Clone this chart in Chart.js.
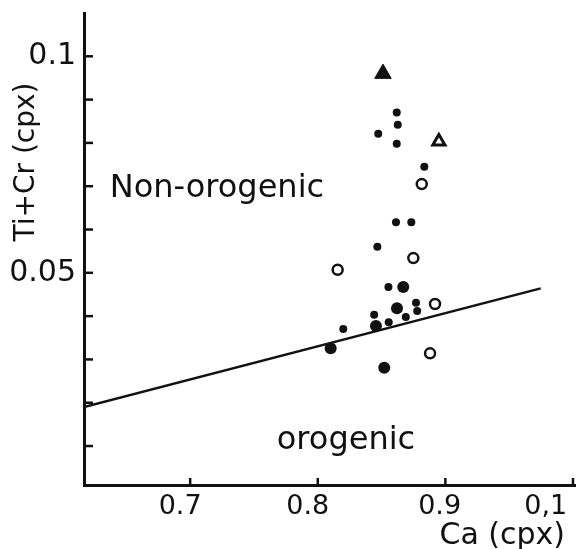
<!DOCTYPE html>
<html>
<head>
<meta charset="utf-8">
<script src="https://cdn.jsdelivr.net/npm/chart.js@4.4.1/dist/chart.umd.min.js"></script>
<style>
  html, body { margin: 0; padding: 0; background: #ffffff; }
  #wrap { width: 578px; height: 549px; }
</style>
</head>
<body>
<div id="wrap"><canvas id="c" width="578" height="549"></canvas></div>
<script>
// ---- data ----
const xTickValues = [0.7, 0.8, 0.9, 1.0];
const xTickLabels = ['0.7', '0.8', '0.9', '0,1'];
const yTickValues = [0.01, 0.02, 0.03, 0.04, 0.05, 0.06, 0.07, 0.08, 0.09, 0.10];
const yLabelledTicks = [0.05, 0.10];
const yLabelTexts = ['0.05', '0.1'];

const smallDotsX = [0.8619, 0.8627, 0.8474, 0.8619, 0.8835, 0.8613, 0.8733, 0.8467, 0.8554, 0.8770, 0.8779, 0.8442, 0.8690, 0.8556, 0.8200];
const smallDotsY = [0.0870, 0.0842, 0.0821, 0.0798, 0.0745, 0.0617, 0.0617, 0.0560, 0.0467, 0.0431, 0.0412, 0.0403, 0.0398, 0.0386, 0.0370];

const bigDotsX = [0.8670, 0.8621, 0.8456, 0.8101, 0.8521];
const bigDotsY = [0.0467, 0.0418, 0.0377, 0.0326, 0.0281];

const openCirclesX = [0.8815, 0.8749, 0.8156, 0.8919, 0.8880];
const openCirclesY = [0.0705, 0.0534, 0.0507, 0.0428, 0.0314];

const filledTriangleX = [0.8511];
const filledTriangleY = [0.0960];
const openTriangleX = [0.8949];
const openTriangleY = [0.0803];

const boundaryX = [0.6168, 0.9747];
const boundaryY = [0.0190, 0.0464];

const regionLabels = ['Non-orogenic', 'orogenic'];
const regionLabelX = [0.7210, 0.8221];
const regionLabelY = [0.0675, 0.0093];

const xTitle = 'Ca (cpx)';
const yTitle = 'Ti+Cr (cpx)';

// ---- build ----
const pts = (xs, ys) => xs.map((x, i) => ({ x: x, y: ys[i] }));
const INK = '#111111';
const FONT = '"DejaVu Sans", sans-serif';
// per-label nudges (in spaces) so labels sit where the reference prints them
const xLabelPad = [['', ''], ['', ''], [' ', ''], ['', '    ']];

const extras = {
  id: 'extras',
  afterDraw(chart) {
    const ctx = chart.ctx;
    const xs = chart.scales.x, ys = chart.scales.y;
    const a = chart.chartArea;
    ctx.save();
    ctx.strokeStyle = INK;
    ctx.lineWidth = 2.5;
    // inward tick marks
    yTickValues.forEach(v => {
      const py = ys.getPixelForValue(v);
      ctx.beginPath(); ctx.moveTo(a.left, py); ctx.lineTo(a.left + 9, py); ctx.stroke();
    });
    xTickValues.forEach(v => {
      const px = xs.getPixelForValue(v);
      ctx.beginPath(); ctx.moveTo(px, a.bottom); ctx.lineTo(px, a.bottom - 7); ctx.stroke();
    });
    // region labels
    ctx.fillStyle = INK;
    ctx.font = '32px ' + FONT;
    ctx.textAlign = 'center';
    ctx.textBaseline = 'alphabetic';
    regionLabels.forEach((t, i) => {
      ctx.fillText(t, xs.getPixelForValue(regionLabelX[i]), ys.getPixelForValue(regionLabelY[i]));
    });
    // axis titles
    ctx.font = '30px ' + FONT;
    ctx.textAlign = 'right';
    ctx.textBaseline = 'middle';
    ctx.fillText(xTitle, a.right - 10, a.bottom + 51);
    ctx.save();
    ctx.translate(a.left - 57, 162);
    ctx.rotate(-Math.PI / 2);
    ctx.font = '28px ' + FONT;
    ctx.textAlign = 'center';
    ctx.fillText(yTitle, 0, 0);
    ctx.restore();
    ctx.restore();
  }
};

new Chart(document.getElementById('c'), {
  type: 'scatter',
  data: {
    datasets: [
      { label: 'boundary', data: pts(boundaryX, boundaryY), showLine: true, borderColor: INK, borderWidth: 2.5, pointRadius: 0, fill: false },
      { label: 'small', data: pts(smallDotsX, smallDotsY), pointStyle: 'circle', pointRadius: 4, backgroundColor: INK, borderWidth: 0 },
      { label: 'big', data: pts(bigDotsX, bigDotsY), pointStyle: 'circle', pointRadius: 6, backgroundColor: INK, borderWidth: 0 },
      { label: 'open', data: pts(openCirclesX, openCirclesY), pointStyle: 'circle', pointRadius: 5, backgroundColor: '#ffffff', borderColor: INK, borderWidth: 2.5 },
      { label: 'tri', data: pts(filledTriangleX, filledTriangleY), pointStyle: 'triangle', pointRadius: 9.5, backgroundColor: INK, borderColor: INK, borderWidth: 1 },
      { label: 'opentri', data: pts(openTriangleX, openTriangleY), pointStyle: 'triangle', pointRadius: 7, backgroundColor: '#ffffff', borderColor: INK, borderWidth: 3 }
    ]
  },
  options: {
    responsive: false,
    animation: false,
    devicePixelRatio: 1,
    layout: { autoPadding: false, padding: { top: 13, right: 3, left: 0, bottom: 0 } },
    plugins: { legend: { display: false }, tooltip: { enabled: false }, title: { display: false } },
    scales: {
      x: {
        type: 'linear',
        min: 0.6168,
        max: 1.0016,
        afterFit: s => { s.height = 64; s.paddingLeft = 0; s.paddingRight = 0; },
        afterBuildTicks: s => { s.ticks = xTickValues.map(v => ({ value: v })); },
        grid: { display: false, drawTicks: false },
        border: { display: true, color: INK, width: 3 },
        ticks: {
          color: INK,
          font: { family: FONT, size: 27 },
          padding: 6,
          labelOffset: -10,
          maxRotation: 0,
          autoSkip: false,
          callback: (v) => {
            const i = xTickValues.indexOf(v);
            return i >= 0 ? xLabelPad[i][0] + xTickLabels[i] + xLabelPad[i][1] : '';
          }
        }
      },
      y: {
        type: 'linear',
        min: 0.001,
        max: 0.110,
        afterFit: s => { s.width = 84; s.paddingTop = 0; s.paddingBottom = 0; },
        afterBuildTicks: s => { s.ticks = yTickValues.map(v => ({ value: v })); },
        grid: { display: false, drawTicks: false },
        border: { display: true, color: INK, width: 3 },
        ticks: {
          color: INK,
          font: { family: FONT, size: 30 },
          padding: 8,
          autoSkip: false,
          callback: (v) => {
            const i = yLabelledTicks.findIndex(t => Math.abs(t - v) < 1e-9);
            return i >= 0 ? yLabelTexts[i] : '';
          }
        }
      }
    }
  },
  plugins: [extras]
});
</script>
</body>
</html>
